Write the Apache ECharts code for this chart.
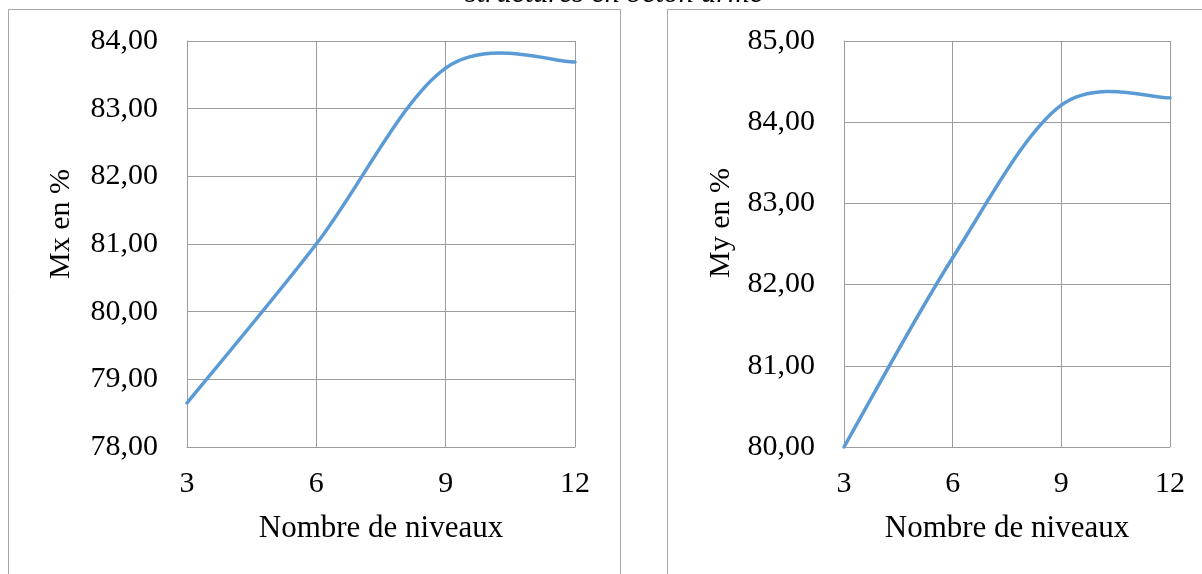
<!DOCTYPE html>
<html>
<head>
<meta charset="utf-8">
<script src="https://cdn.jsdelivr.net/npm/echarts@6/dist/echarts.min.js"></script>
<style>
html,body{margin:0;padding:0;background:#fff;}
#c{width:1202px;height:574px;}
</style>
</head>
<body>
<div id="c"></div>
<script>
// Data
const niveaux = [3, 6, 9, 12];
const mxValues = [78.65, 81.00, 83.60, 83.69];
const myValues = [80.00, 82.33, 84.21, 84.30];
const xTickLabels = ['3', '6', '9', '12'];
const yTickLabelsLeft = ['78,00', '79,00', '80,00', '81,00', '82,00', '83,00', '84,00'];
const yTickLabelsRight = ['80,00', '81,00', '82,00', '83,00', '84,00', '85,00'];
const xName = 'Nombre de niveaux';
const yNameLeft = 'Mx en %';
const yNameRight = 'My en %';
const captionText = 'structures en béton armé';

const FONT = '"Liberation Serif", "Times New Roman", serif';
const GRID_COLOR = '#9c9c9c';
const LINE_COLOR = '#5b9bd5';

function labelFrom(list, min) {
  return function (v) {
    const i = Math.round(v - min);
    return list[i] !== undefined ? list[i] : '';
  };
}
function xLabel(v) {
  const i = niveaux.indexOf(v);
  return i >= 0 ? xTickLabels[i] : '';
}

function xAxisCfg(gi) {
  return {
    gridIndex: gi, type: 'value', min: 3, max: 12, interval: 3,
    name: xName, nameLocation: 'middle', nameGap: 66,
    nameTextStyle: {fontFamily: FONT, fontSize: 31, color: '#000'},
    axisLine: {show: true, lineStyle: {color: GRID_COLOR, width: 1}},
    axisTick: {show: false},
    axisLabel: {formatter: xLabel, fontFamily: FONT, fontSize: 30, color: '#000', margin: 22},
    splitLine: {show: true, lineStyle: {color: GRID_COLOR, width: 1}}
  };
}
function yAxisCfg(gi, min, max, labels) {
  return {
    gridIndex: gi, type: 'value', min: min, max: max, interval: 1,
    axisLine: {show: true, lineStyle: {color: GRID_COLOR, width: 1}},
    axisTick: {show: false},
    axisLabel: {formatter: labelFrom(labels, min), fontFamily: FONT, fontSize: 30, color: '#000', margin: 29},
    splitLine: {show: true, lineStyle: {color: GRID_COLOR, width: 1}}
  };
}

// Excel-like smoothed line (Catmull-Rom through the data points, via the axes' scales)
function smoothSeries(gi, values) {
  return {
    type: 'custom', coordinateSystem: 'cartesian2d', xAxisIndex: gi, yAxisIndex: gi,
    data: niveaux.map((x, i) => [x, values[i]]),
    encode: {x: 0, y: 1},
    clip: false,
    renderItem: function (params, api) {
      const i = params.dataIndex;
      const n = niveaux.length;
      if (i >= n - 1) return null;
      const P = k => api.coord([niveaux[Math.max(0, Math.min(n - 1, k))], values[Math.max(0, Math.min(n - 1, k))]]);
      const p0 = P(i - 1), p1 = P(i), p2 = P(i + 1), p3 = P(i + 2);
      return {
        type: 'bezierCurve',
        shape: {
          x1: p1[0], y1: p1[1], x2: p2[0], y2: p2[1],
          cpx1: p1[0] + (p2[0] - p0[0]) / 6, cpy1: p1[1] + (p2[1] - p0[1]) / 6,
          cpx2: p2[0] - (p3[0] - p1[0]) / 6, cpy2: p2[1] - (p3[1] - p1[1]) / 6
        },
        style: {stroke: LINE_COLOR, lineWidth: 3.5, fill: null, lineCap: 'round'}
      };
    }
  };
}

const chart = echarts.init(document.getElementById('c'), null, {renderer: 'canvas'});
chart.setOption({
  animation: false,
  backgroundColor: '#fff',
  grid: [
    {left: 187, top: 41, width: 388, height: 406, show: false},
    {left: 844, top: 41, width: 326, height: 406, show: false}
  ],
  xAxis: [xAxisCfg(0), xAxisCfg(1)],
  yAxis: [yAxisCfg(0, 78, 84, yTickLabelsLeft), yAxisCfg(1, 80, 85, yTickLabelsRight)],
  series: [smoothSeries(0, mxValues), smoothSeries(1, myValues)],
  graphic: [
    {type: 'rect', shape: {x: 8.5, y: 9.5, width: 612, height: 620}, style: {fill: null, stroke: '#a6a6a6', lineWidth: 1}, z: -1},
    {type: 'rect', shape: {x: 667.5, y: 9.5, width: 560, height: 620}, style: {fill: null, stroke: '#a6a6a6', lineWidth: 1}, z: -1},
    {type: 'text', x: 614, y: 9, style: {text: captionText, font: 'italic 30px ' + FONT, fill: '#000', textAlign: 'center', textVerticalAlign: 'bottom'}},
    {type: 'text', x: 61, y: 224, rotation: Math.PI / 2, style: {text: yNameLeft, font: '30px ' + FONT, fill: '#000', textAlign: 'center', textVerticalAlign: 'middle'}},
    {type: 'text', x: 721, y: 223, rotation: Math.PI / 2, style: {text: yNameRight, font: '30px ' + FONT, fill: '#000', textAlign: 'center', textVerticalAlign: 'middle'}}
  ]
});
</script>
</body>
</html>
